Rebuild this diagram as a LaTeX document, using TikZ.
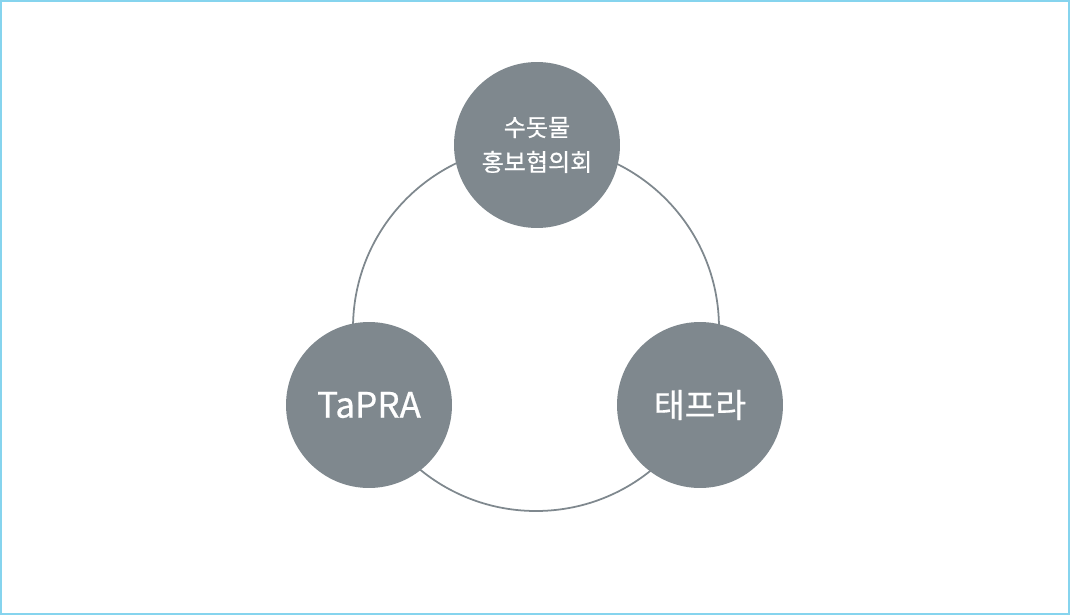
\documentclass[tikz,border=0pt]{standalone}
\usepackage{fontspec}
\setmainfont{Noto Sans CJK KR}[FakeBold=0.6]
\definecolor{nodegray}{HTML}{7F888E}
\definecolor{framecyan}{HTML}{86D4EE}
\tikzset{member/.style={circle, fill=nodegray, text=white, minimum size=3.32cm, inner sep=0pt, align=center}}

\begin{document}
\begin{tikzpicture}[x=0.02cm, y=-0.02cm]
\useasboundingbox (0,0) rectangle (1070,615);
\draw[framecyan, line width=1.1pt, fill=white] (1,1) rectangle (1069,614);
\coordinate (hub) at (536,328);
\draw[nodegray, line width=1pt] (hub) circle[radius=183];
\node[member, font=\fontsize{13.7}{19.8}\selectfont] (council) at (537,145) {수돗물\\홍보협의회};
\node[member, font=\fontsize{20}{24}\selectfont] (tapra) at (369,405) {TaPRA};
\node[member, font=\fontsize{19}{24}\selectfont] (tepra) at (700,405) {태프라};
\end{tikzpicture}
\end{document}
